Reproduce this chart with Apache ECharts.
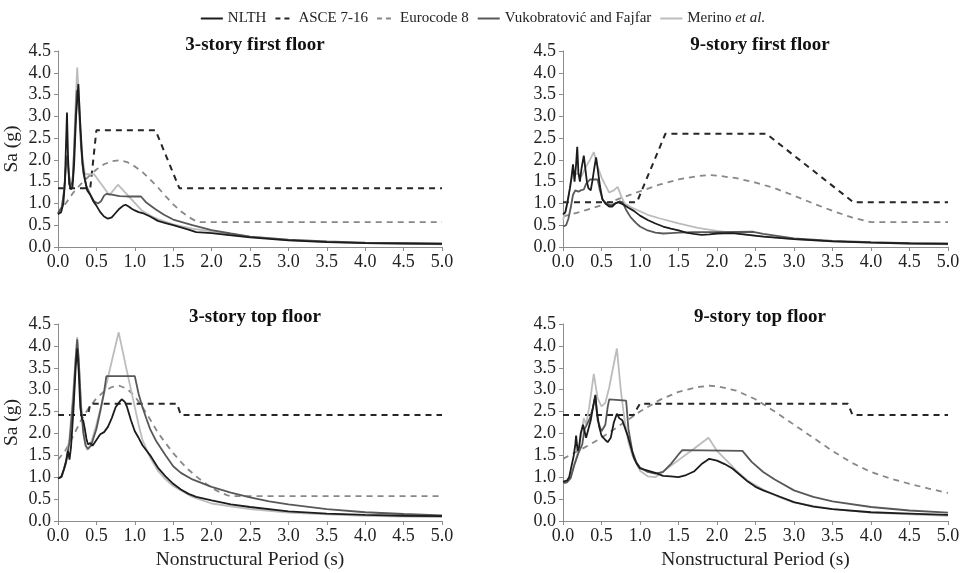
<!DOCTYPE html>
<html><head><meta charset="utf-8">
<script src="https://cdn.jsdelivr.net/npm/echarts@6/dist/echarts.min.js"></script>
<style>html,body{margin:0;padding:0;background:#fff}#c{width:966px;height:573px}</style>
</head><body><div id="c"></div>
<script>
// Panel titles and legend names
const panelTitles = ['3-story first floor','9-story first floor','3-story top floor','9-story top floor'];
const seriesNames = ['NLTH','ASCE 7-16','Eurocode 8','Vukobratović and Fajfar','Merino et al.'];
const xTicks = {min:0,max:5,step:0.5};
const yTicks = {min:0,max:4.5,step:0.5};

// ---- Panel 1: 3-story first floor  [period (s), Sa (g)]
const p1_nlth = [[0,0.75],[0.04,0.8],[0.07,1.0],[0.09,1.5],[0.105,2.4],[0.117,3.09],[0.13,2.1],[0.145,1.45],[0.17,1.32],[0.19,1.4],[0.21,1.9],[0.235,3.0],[0.265,3.74],[0.29,2.8],[0.32,1.9],[0.35,1.55],[0.38,1.3],[0.42,1.2],[0.46,1.05],[0.5,0.95],[0.55,0.8],[0.6,0.7],[0.65,0.65],[0.7,0.68],[0.75,0.78],[0.8,0.88],[0.85,0.95],[0.88,0.97],[0.92,0.93],[0.96,0.88],[1.0,0.84],[1.05,0.8],[1.1,0.78],[1.2,0.7],[1.3,0.6],[1.4,0.55],[1.5,0.5],[1.6,0.45],[1.7,0.4],[1.8,0.34],[1.9,0.33],[2.0,0.32],[2.2,0.28],[2.5,0.22],[3.0,0.15],[3.5,0.11],[4.0,0.09],[4.5,0.08],[5.0,0.07]];
const p1_asce = [[0,1.35],[0.42,1.35],[0.5,2.68],[1.27,2.68],[1.58,1.35],[5,1.35]];
const p1_ec8 = [[0,0.77],[0.1,1.0],[0.2,1.25],[0.3,1.45],[0.4,1.62],[0.5,1.78],[0.6,1.9],[0.7,1.97],[0.8,1.99],[0.9,1.95],[1.0,1.85],[1.1,1.72],[1.2,1.55],[1.3,1.37],[1.4,1.17],[1.5,0.98],[1.6,0.82],[1.7,0.69],[1.8,0.59],[1.85,0.57],[5,0.57]];
const p1_vuk = [[0,0.78],[0.05,0.92],[0.08,1.3],[0.1,1.8],[0.12,2.1],[0.14,1.7],[0.16,1.4],[0.19,1.5],[0.22,2.6],[0.245,3.6],[0.27,3.3],[0.3,2.3],[0.33,1.7],[0.37,1.4],[0.42,1.2],[0.47,1.05],[0.52,1.0],[0.56,1.05],[0.6,1.18],[0.63,1.22],[0.7,1.2],[0.8,1.17],[0.9,1.16],[1.0,1.16],[1.08,1.16],[1.15,1.02],[1.26,0.88],[1.38,0.74],[1.5,0.63],[1.75,0.5],[2.0,0.39],[2.25,0.31],[2.5,0.24],[3.0,0.17],[3.5,0.13],[4.0,0.1],[4.5,0.09],[5.0,0.08]];
const p1_mer = [[0,0.75],[0.05,0.9],[0.08,1.3],[0.1,1.7],[0.12,2.1],[0.14,1.7],[0.17,1.35],[0.2,1.7],[0.22,2.9],[0.25,4.12],[0.28,3.2],[0.31,2.2],[0.35,1.67],[0.47,1.67],[0.57,1.43],[0.67,1.19],[0.78,1.43],[1.09,0.84],[1.2,0.72],[1.3,0.64],[1.5,0.52],[1.75,0.42],[2.0,0.36],[2.5,0.24],[3.0,0.16],[3.5,0.12],[4.0,0.09],[4.5,0.07],[5.0,0.06]];

// ---- Panel 2: 9-story first floor
const p2_nlth = [[0,0.75],[0.03,0.8],[0.06,1.05],[0.09,1.35],[0.11,1.6],[0.13,1.9],[0.15,1.5],[0.17,1.9],[0.185,2.3],[0.2,1.7],[0.22,1.5],[0.24,1.8],[0.27,2.1],[0.29,1.8],[0.31,1.5],[0.33,1.35],[0.36,1.3],[0.38,1.5],[0.41,1.85],[0.43,2.06],[0.45,1.8],[0.48,1.4],[0.51,1.1],[0.55,1.0],[0.6,0.93],[0.64,0.93],[0.68,1.0],[0.72,1.03],[0.78,0.98],[0.85,0.9],[0.92,0.83],[1.0,0.72],[1.1,0.62],[1.2,0.54],[1.3,0.47],[1.4,0.42],[1.5,0.38],[1.6,0.33],[1.7,0.3],[1.8,0.28],[1.9,0.29],[2.0,0.31],[2.2,0.32],[2.4,0.28],[2.6,0.24],[3.0,0.18],[3.5,0.13],[4.0,0.1],[4.5,0.08],[5.0,0.07]];
const p2_asce = [[0,1.03],[0.96,1.03],[1.33,2.6],[2.64,2.6],[3.77,1.03],[5,1.03]];
const p2_ec8 = [[0,0.7],[0.25,0.82],[0.5,0.96],[0.75,1.12],[1.0,1.28],[1.25,1.43],[1.5,1.55],[1.75,1.63],[1.9,1.65],[2.0,1.64],[2.25,1.58],[2.5,1.48],[2.75,1.35],[3.0,1.18],[3.25,1.0],[3.5,0.83],[3.75,0.68],[4.0,0.57],[5,0.57]];
const p2_vuk = [[0,0.47],[0.04,0.5],[0.07,0.65],[0.1,0.9],[0.13,1.2],[0.16,1.3],[0.2,1.27],[0.23,1.3],[0.27,1.32],[0.3,1.45],[0.35,1.55],[0.45,1.55],[0.48,1.3],[0.52,1.07],[0.58,0.98],[0.63,0.96],[0.68,1.0],[0.74,1.05],[0.78,1.0],[0.82,0.85],[0.88,0.68],[0.95,0.55],[1.0,0.47],[1.1,0.38],[1.2,0.33],[1.3,0.31],[1.4,0.32],[1.5,0.33],[1.7,0.34],[2.0,0.34],[2.47,0.35],[2.6,0.3],[2.8,0.25],[3.0,0.2],[3.5,0.14],[4.0,0.11],[4.5,0.09],[5.0,0.08]];
const p2_mer = [[0,0.62],[0.04,0.85],[0.08,1.25],[0.11,1.55],[0.13,1.68],[0.2,1.68],[0.24,1.62],[0.3,1.85],[0.35,2.0],[0.4,2.18],[0.44,1.9],[0.5,1.6],[0.55,1.42],[0.6,1.25],[0.66,1.3],[0.71,1.38],[0.76,1.15],[0.8,1.0],[0.9,0.9],[1.0,0.82],[1.1,0.74],[1.25,0.66],[1.5,0.54],[1.75,0.44],[2.0,0.37],[2.5,0.26],[3.0,0.18],[3.5,0.13],[4.0,0.1],[4.5,0.08],[5.0,0.06]];

// ---- Panel 3: 3-story top floor
const p3_nlth = [[0,0.97],[0.04,1.0],[0.08,1.2],[0.11,1.4],[0.13,1.6],[0.15,1.4],[0.17,1.7],[0.2,2.5],[0.23,3.5],[0.25,3.94],[0.27,3.4],[0.29,2.6],[0.31,2.35],[0.33,2.28],[0.35,2.1],[0.37,1.88],[0.39,1.75],[0.42,1.78],[0.45,1.72],[0.5,1.85],[0.55,1.98],[0.6,2.03],[0.65,2.15],[0.7,2.35],[0.75,2.6],[0.8,2.72],[0.83,2.78],[0.87,2.72],[0.9,2.6],[0.95,2.3],[1.0,2.05],[1.05,1.9],[1.1,1.73],[1.2,1.5],[1.3,1.22],[1.4,1.02],[1.5,0.85],[1.6,0.72],[1.7,0.62],[1.8,0.55],[2.0,0.47],[2.25,0.38],[2.5,0.32],[3.0,0.22],[3.5,0.17],[4.0,0.14],[4.5,0.12],[5.0,0.11]];
const p3_asce = [[0,2.42],[0.39,2.42],[0.42,2.68],[1.55,2.68],[1.6,2.42],[5,2.42]];
const p3_ec8 = [[0,1.4],[0.1,1.62],[0.2,1.95],[0.3,2.3],[0.4,2.58],[0.5,2.8],[0.6,2.96],[0.7,3.06],[0.8,3.09],[0.9,3.02],[1.0,2.85],[1.1,2.6],[1.2,2.32],[1.3,2.02],[1.4,1.78],[1.5,1.55],[1.6,1.35],[1.7,1.17],[1.8,1.02],[1.9,0.88],[2.0,0.76],[2.1,0.66],[2.2,0.59],[2.25,0.57],[5,0.57]];
const p3_vuk = [[0,0.97],[0.05,1.02],[0.1,1.3],[0.15,1.8],[0.2,2.8],[0.23,3.7],[0.25,4.15],[0.27,3.7],[0.3,2.6],[0.33,2.0],[0.36,1.72],[0.39,1.65],[0.43,1.72],[0.5,2.1],[0.55,2.5],[0.6,2.95],[0.63,3.31],[1.0,3.31],[1.05,2.9],[1.1,2.6],[1.15,2.34],[1.2,2.1],[1.28,1.82],[1.4,1.5],[1.5,1.25],[1.6,1.1],[1.75,0.95],[2.0,0.78],[2.25,0.65],[2.5,0.54],[2.75,0.45],[3.0,0.38],[3.5,0.27],[4.0,0.2],[4.5,0.16],[5.0,0.13]];
const p3_mer = [[0,0.97],[0.05,1.02],[0.1,1.35],[0.15,1.9],[0.2,3.0],[0.25,4.2],[0.28,3.3],[0.31,2.4],[0.35,1.8],[0.38,1.62],[0.42,1.72],[0.5,2.2],[0.6,2.9],[0.7,3.65],[0.79,4.31],[0.9,3.4],[1.0,2.6],[1.05,2.2],[1.1,1.85],[1.2,1.45],[1.3,1.15],[1.4,0.95],[1.5,0.8],[1.75,0.55],[2.0,0.4],[2.5,0.27],[3.0,0.19],[3.5,0.15],[4.0,0.12],[4.5,0.1],[5.0,0.09]];

// ---- Panel 4: 9-story top floor
const p4_nlth = [[0,0.9],[0.05,0.92],[0.08,1.0],[0.11,1.25],[0.14,1.5],[0.16,1.75],[0.17,1.95],[0.19,1.6],[0.21,1.7],[0.23,2.0],[0.26,2.2],[0.28,2.05],[0.3,1.9],[0.33,2.1],[0.36,2.3],[0.39,2.6],[0.42,2.88],[0.44,2.5],[0.47,2.15],[0.5,1.95],[0.55,1.85],[0.58,1.8],[0.62,1.9],[0.66,2.25],[0.7,2.45],[0.73,2.35],[0.77,2.3],[0.8,2.15],[0.84,1.95],[0.88,1.7],[0.92,1.45],[0.96,1.3],[1.0,1.2],[1.1,1.15],[1.2,1.1],[1.3,1.03],[1.4,1.02],[1.5,1.0],[1.6,1.05],[1.7,1.13],[1.8,1.3],[1.9,1.42],[2.0,1.38],[2.1,1.3],[2.2,1.2],[2.3,1.05],[2.4,0.9],[2.5,0.78],[2.6,0.7],[2.75,0.6],[3.0,0.43],[3.25,0.33],[3.5,0.27],[4.0,0.2],[4.5,0.17],[5.0,0.14]];
const p4_asce = [[0,2.42],[0.92,2.42],[0.94,2.5],[1.0,2.68],[3.7,2.68],[3.76,2.42],[5,2.42]];
const p4_ec8 = [[0,1.42],[0.25,1.65],[0.5,1.9],[0.75,2.2],[1.0,2.5],[1.25,2.76],[1.5,2.95],[1.75,3.06],[1.9,3.09],[2.0,3.08],[2.25,2.98],[2.5,2.78],[2.75,2.5],[3.0,2.2],[3.25,1.9],[3.5,1.6],[3.75,1.33],[4.0,1.12],[4.25,0.97],[4.5,0.85],[4.75,0.74],[5.0,0.64]];
const p4_vuk = [[0,0.87],[0.05,0.88],[0.1,0.98],[0.15,1.3],[0.2,1.55],[0.25,1.75],[0.28,2.1],[0.31,2.2],[0.35,2.35],[0.39,2.6],[0.42,2.85],[0.45,2.3],[0.5,2.05],[0.55,2.2],[0.58,2.6],[0.6,2.78],[0.82,2.75],[0.85,2.1],[0.9,1.6],[0.95,1.35],[1.0,1.22],[1.1,1.12],[1.2,1.08],[1.3,1.12],[1.4,1.3],[1.5,1.52],[1.55,1.62],[2.33,1.6],[2.45,1.35],[2.6,1.12],[2.75,0.95],[3.0,0.7],[3.25,0.55],[3.5,0.45],[4.0,0.32],[4.5,0.24],[5.0,0.19]];
const p4_mer = [[0,0.85],[0.05,0.88],[0.1,1.0],[0.15,1.3],[0.2,1.6],[0.24,2.0],[0.27,2.35],[0.3,2.2],[0.34,2.6],[0.4,3.36],[0.45,2.8],[0.5,2.62],[0.55,2.7],[0.6,3.05],[0.65,3.5],[0.7,3.94],[0.75,3.0],[0.8,2.3],[0.85,1.8],[0.9,1.5],[1.0,1.15],[1.1,1.02],[1.2,1.0],[1.3,1.13],[1.5,1.39],[1.7,1.65],[1.89,1.9],[2.0,1.6],[2.12,1.39],[2.25,1.15],[2.4,0.92],[2.6,0.72],[2.8,0.55],[3.0,0.42],[3.5,0.27],[4.0,0.19],[4.5,0.15],[5.0,0.12]];

const panels = [
  {nlth:p1_nlth, asce:p1_asce, ec8:p1_ec8, vuk:p1_vuk, mer:p1_mer},
  {nlth:p2_nlth, asce:p2_asce, ec8:p2_ec8, vuk:p2_vuk, mer:p2_mer},
  {nlth:p3_nlth, asce:p3_asce, ec8:p3_ec8, vuk:p3_vuk, mer:p3_mer},
  {nlth:p4_nlth, asce:p4_asce, ec8:p4_ec8, vuk:p4_vuk, mer:p4_mer}
];

const FONT = '"Liberation Serif","Times New Roman",serif';
const styles = {
  nlth:{name:seriesNames[0], color:'#1c1c1c', width:1.8, type:'solid', z:5},
  asce:{name:seriesNames[1], color:'#262626', width:2, type:[6,5], z:3},
  ec8: {name:seriesNames[2], color:'#888888', width:1.8, type:[6,5], z:2},
  vuk: {name:seriesNames[3], color:'#585858', width:1.8, type:'solid', z:4},
  mer: {name:seriesNames[4], color:'#bcbcbc', width:1.8, type:'solid', z:3}
};
const grids = [
  {left:58, top:51, width:384, height:196},
  {left:563, top:51, width:385, height:196},
  {left:58, top:324, width:384, height:197},
  {left:563, top:324, width:385, height:197}
];
const titlePos = [[250,31],[755,31],[250,303],[755,303]];

const xAxes = [], yAxes = [], series = [], titles = [];
grids.forEach((g,i)=>{
  const bottom = i>=2, left = (i%2===0);
  xAxes.push({type:'value', gridIndex:i, min:xTicks.min, max:xTicks.max, interval:xTicks.step,
    name: bottom ? 'Nonstructural Period (s)' : '', nameLocation:'middle', nameGap:29,
    nameTextStyle:{fontFamily:FONT, fontSize:19.5, color:'#222'},
    axisLine:{lineStyle:{color:'#8c8c8c', width:1}},
    axisTick:{show:true, length:4, lineStyle:{color:'#8c8c8c'}},
    axisLabel:{fontFamily:FONT, fontSize:18, color:'#222', margin:6, formatter:v=>v.toFixed(1)},
    splitLine:{show:false}});
  yAxes.push({type:'value', gridIndex:i, min:yTicks.min, max:yTicks.max, interval:yTicks.step,
    name: left ? 'Sa (g)' : '', nameLocation:'middle', nameGap:36, nameRotate:90,
    nameTextStyle:{fontFamily:FONT, fontSize:19.5, color:'#222'},
    axisLine:{show:true, lineStyle:{color:'#8c8c8c', width:1}},
    axisTick:{show:true, length:4, lineStyle:{color:'#8c8c8c'}},
    axisLabel:{fontFamily:FONT, fontSize:18, color:'#222', margin:7, formatter:v=>v.toFixed(1)},
    splitLine:{show:false}});
  titles.push({text:panelTitles[i], left:titlePos[i][0], top:titlePos[i][1], textAlign:'center',
    textStyle:{fontFamily:FONT, fontSize:19, fontWeight:'bold', color:'#111'}});
  ['ec8','asce','mer','vuk','nlth'].forEach(k=>{
    const s = styles[k];
    series.push({type:'line', name:s.name, xAxisIndex:i, yAxisIndex:i, data:panels[i][k],
      showSymbol:false, symbol:'none', smooth:false, z:s.z, silent:true, animation:false,
      color:s.color, lineStyle:{color:s.color, width:s.width, type:s.type}});
  });
});

const solidIcon = 'path://M0,0h22v2h-22z';
const dashIcon = 'path://M0,0h5v2h-5z M9,0h5v2h-5z';
const legendData = seriesNames.map((n,idx)=>({name:n, icon:(idx===1||idx===2)?dashIcon:solidIcon}));

const chart = echarts.init(document.getElementById('c'), null, {renderer:'canvas'});
chart.setOption({
  backgroundColor:'#fff',
  animation:false,
  title:titles,
  legend:{data:legendData, top:6, left:'center', itemWidth:22, itemHeight:2, itemGap:9,
    textStyle:{fontFamily:FONT, fontSize:15, color:'#222',
      rich:{i:{fontFamily:FONT, fontSize:15, fontStyle:'italic', color:'#222'}}},
    formatter:function(n){ return n==='Merino et al.' ? 'Merino {i|et al.}' : n; }},
  grid:grids, xAxis:xAxes, yAxis:yAxes, series:series
});
</script></body></html>
